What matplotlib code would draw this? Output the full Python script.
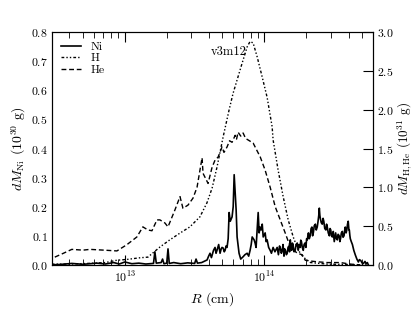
import numpy as np
import matplotlib
matplotlib.use('Agg')
import matplotlib.pyplot as plt

plt.rcParams['font.family'] = 'serif'
plt.rcParams['font.serif'] = ['cmr10']
plt.rcParams['mathtext.fontset'] = 'cm'
plt.rcParams['axes.formatter.use_mathtext'] = True
plt.rcParams['font.size'] = 8.5

# log10 R (cm) and mass values
ni_logr = [12.476, 12.55, 12.62, 12.70, 12.80, 12.86, 12.92, 12.96, 13.00, 13.05,
           13.10, 13.15, 13.205, 13.215, 13.225, 13.26, 13.27, 13.28, 13.30, 13.309,
           13.318, 13.35, 13.40, 13.45, 13.50, 13.51, 13.52, 13.55, 13.589, 13.60,
           13.610, 13.62, 13.635, 13.646, 13.653, 13.660, 13.672, 13.682, 13.690, 13.696,
           13.704, 13.712, 13.718, 13.725, 13.732, 13.740, 13.747, 13.755, 13.768, 13.776,
           13.783, 13.790, 13.797, 13.804, 13.818, 13.83, 13.847, 13.86, 13.876, 13.887,
           13.897, 13.905, 13.912, 13.926, 13.933, 13.940, 13.955, 13.962, 13.969, 13.976,
           13.984, 13.991, 14.005, 14.012, 14.019, 14.03, 14.041, 14.05, 14.062, 14.075,
           14.091, 14.10, 14.108, 14.115, 14.121, 14.127, 14.133, 14.14, 14.145, 14.15,
           14.157, 14.163, 14.169, 14.175, 14.18, 14.185, 14.19, 14.195, 14.20, 14.205,
           14.212, 14.220, 14.227, 14.235, 14.242, 14.249, 14.256, 14.26, 14.265, 14.271,
           14.278, 14.284, 14.29, 14.297, 14.302, 14.307, 14.311, 14.315, 14.321, 14.328,
           14.334, 14.34, 14.345, 14.350, 14.357, 14.365, 14.371, 14.378, 14.384, 14.389,
           14.393, 14.397, 14.40, 14.407, 14.414, 14.42, 14.425, 14.432, 14.44, 14.445,
           14.450, 14.457, 14.465, 14.47, 14.475, 14.48, 14.486, 14.493, 14.50, 14.505,
           14.51, 14.516, 14.522, 14.528, 14.535, 14.54, 14.545, 14.551, 14.558, 14.563,
           14.57, 14.575, 14.579, 14.585, 14.59, 14.595, 14.600, 14.605, 14.608, 14.612,
           14.615, 14.622, 14.630, 14.64, 14.651, 14.662, 14.673, 14.68, 14.69, 14.70,
           14.709, 14.72, 14.728, 14.737, 14.744]
ni_mass = [0.0, 0.002, 0.005, 0.002, 0.006, 0.003, 0.008, 0.003, 0.01, 0.004,
           0.006, 0.003, 0.005, 0.045, 0.006, 0.008, 0.02, 0.004, 0.006, 0.055,
           0.005, 0.008, 0.004, 0.007, 0.005, 0.02, 0.006, 0.008, 0.017, 0.03,
           0.04, 0.025, 0.05, 0.06, 0.04, 0.05, 0.07, 0.04, 0.055, 0.06,
           0.058, 0.045, 0.05, 0.065, 0.06, 0.09, 0.18, 0.15, 0.165, 0.2,
           0.31, 0.25, 0.19, 0.096, 0.04, 0.02, 0.028, 0.035, 0.04, 0.03,
           0.05, 0.07, 0.096, 0.086, 0.075, 0.06, 0.18, 0.11, 0.13, 0.12,
           0.14, 0.096, 0.11, 0.08, 0.086, 0.06, 0.05, 0.04, 0.06, 0.045,
           0.06, 0.035, 0.065, 0.055, 0.04, 0.05, 0.07, 0.03, 0.055, 0.05,
           0.035, 0.04, 0.06, 0.065, 0.045, 0.086, 0.06, 0.05, 0.075, 0.07,
           0.045, 0.05, 0.07, 0.075, 0.05, 0.07, 0.06, 0.085, 0.08, 0.06,
           0.05, 0.07, 0.075, 0.06, 0.09, 0.086, 0.10, 0.11, 0.09, 0.10,
           0.125, 0.13, 0.10, 0.11, 0.135, 0.14, 0.12, 0.13, 0.15, 0.17,
           0.195, 0.17, 0.16, 0.145, 0.14, 0.16, 0.15, 0.125, 0.12, 0.14,
           0.13, 0.11, 0.10, 0.125, 0.12, 0.10, 0.096, 0.115, 0.08, 0.095,
           0.11, 0.09, 0.086, 0.105, 0.10, 0.08, 0.09, 0.11, 0.115, 0.095,
           0.10, 0.12, 0.13, 0.11, 0.12, 0.14, 0.15, 0.12, 0.12, 0.10,
           0.09, 0.08, 0.07, 0.05, 0.034, 0.02, 0.01, 0.018, 0.015, 0.006,
           0.005, 0.012, 0.004, 0.008, 0.0]

h_logr = [12.476, 12.6, 12.75, 12.86, 12.943, 13.014, 13.10, 13.165, 13.251, 13.32,
          13.395, 13.466, 13.538, 13.588, 13.625, 13.660, 13.704, 13.747, 13.775, 13.84,
          13.876, 13.897, 13.919, 13.948, 13.984, 14.019, 14.055, 14.062, 14.098, 14.134,
          14.170, 14.206, 14.242, 14.278, 14.33, 14.45, 14.744]
h_mass = [0.01, 0.01, 0.02, 0.03, 0.06, 0.07, 0.09, 0.10, 0.23, 0.32,
          0.41, 0.49, 0.62, 0.80, 0.99, 1.26, 1.65, 2.0, 2.21, 2.6,
          2.81, 2.88, 2.86, 2.68, 2.42, 2.16, 1.78, 1.61, 1.22, 0.88,
          0.58, 0.36, 0.19, 0.10, 0.03, 0.01, 0.0]

he_logr = [12.498, 12.56, 12.620, 12.70, 12.75, 12.85, 12.943, 13.014, 13.086, 13.129,
           13.165, 13.194, 13.230, 13.251, 13.287, 13.309, 13.359, 13.395, 13.416, 13.452,
           13.488, 13.517, 13.553, 13.560, 13.596, 13.625, 13.646, 13.668, 13.696, 13.710,
           13.732, 13.750, 13.768, 13.790, 13.800, 13.811, 13.830, 13.847, 13.865, 13.883,
           13.919, 13.97, 14.005, 14.041, 14.077, 14.113, 14.149, 14.185, 14.235, 14.271,
           14.292, 14.328, 14.378, 14.45, 14.544, 14.615, 14.687]
he_mass = [0.10, 0.15, 0.20, 0.19, 0.20, 0.19, 0.18, 0.26, 0.36, 0.49,
           0.45, 0.44, 0.58, 0.58, 0.54, 0.49, 0.71, 0.88, 0.73, 0.77,
           0.86, 1.0, 1.38, 1.18, 1.05, 1.26, 1.35, 1.39, 1.52, 1.45,
           1.52, 1.60, 1.58, 1.67, 1.62, 1.71, 1.66, 1.70, 1.63, 1.61,
           1.57, 1.39, 1.22, 1.0, 0.75, 0.58, 0.41, 0.23, 0.15, 0.13,
           0.06, 0.05, 0.04, 0.03, 0.03, 0.01, 0.0]

fig = plt.figure(figsize=(4.15, 3.12), dpi=100)
ax = fig.add_axes([0.125, 0.151, 0.774, 0.746])
ax2 = ax.twinx()

l1, = ax.plot(10**np.array(ni_logr), ni_mass, color='black', lw=1.2, label='Ni')
l2, = ax2.plot(10**np.array(h_logr), h_mass, color='black', lw=1.0,
               ls=(0, (2, 1.5, 1, 1.5, 1, 1.5)), label='H')
l3, = ax2.plot(10**np.array(he_logr), he_mass, color='black', lw=1.0,
               ls=(0, (3.5, 2)), label='He')

ax.set_xscale('log')
ax.set_xlim(3e12, 6e14)
ax.set_ylim(0, 0.8)
ax2.set_ylim(0, 3.0)
ax.set_yticks(np.arange(0, 0.81, 0.1))
ax2.set_yticks(np.arange(0, 3.01, 0.5))

ax.tick_params(axis='x', which='both', direction='in', top=True)
ax.tick_params(axis='x', which='major', length=7)
ax.tick_params(axis='x', which='minor', length=4)
ax.tick_params(axis='y', length=0, pad=3)
ax2.tick_params(axis='y', direction='in', length=7, pad=3)

ax.set_xlabel(r'$R$ (cm)', fontsize=10)
ax.set_ylabel(r'$dM_{\rm Ni}$ $(10^{30}$ g$)$', fontsize=10, labelpad=2)
ax2.set_ylabel(r'$dM_{\rm H,He}$ $(10^{31}$ g$)$', fontsize=9.5, labelpad=1)

ax.text(0.55, 0.914, 'v3m12', transform=ax.transAxes, ha='center', va='center',
        fontsize=9)
ax.legend(handles=[l1, l2, l3], loc='upper left', frameon=False,
          handlelength=1.7, labelspacing=0.1, borderaxespad=0.4)

fig.savefig('out.png', dpi=100)
